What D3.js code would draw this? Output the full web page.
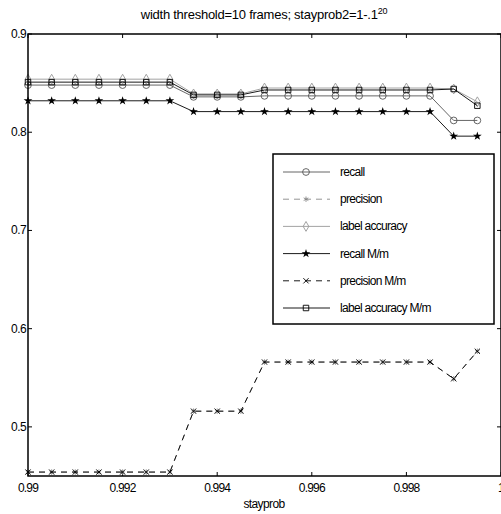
<!DOCTYPE html>
<html>
<head>
<meta charset="utf-8">
<script src="https://cdn.jsdelivr.net/npm/d3@7"></script>
<style>
  body { margin: 0; background: #fff; }
  svg { display: block; font-family: "Liberation Sans", Arial, sans-serif; }
</style>
</head>
<body>
<svg id="chart" width="501" height="514"></svg>
<script>
// stayprob values on the x axis
const stayprob = [0.99, 0.9905, 0.991, 0.9915, 0.992, 0.9925, 0.993, 0.9935, 0.994, 0.9945,
                  0.995, 0.9955, 0.996, 0.9965, 0.997, 0.9975, 0.998, 0.9985, 0.999, 0.9995];

const recall        = [0.848, 0.848, 0.848, 0.848, 0.848, 0.848, 0.848, 0.836, 0.836, 0.836,
                       0.837, 0.837, 0.837, 0.837, 0.837, 0.837, 0.837, 0.837, 0.812, 0.812];
const precision     = [0.454, 0.454, 0.454, 0.454, 0.454, 0.454, 0.454, 0.516, 0.516, 0.516,
                       0.566, 0.566, 0.566, 0.566, 0.566, 0.566, 0.566, 0.566, 0.549, 0.577];
const labelAcc      = [0.854, 0.854, 0.854, 0.854, 0.854, 0.854, 0.854, 0.839, 0.839, 0.839,
                       0.845, 0.845, 0.845, 0.845, 0.845, 0.845, 0.845, 0.845, 0.844, 0.831];
const recallMm      = [0.832, 0.832, 0.832, 0.832, 0.832, 0.832, 0.832, 0.821, 0.821, 0.821,
                       0.821, 0.821, 0.821, 0.821, 0.821, 0.821, 0.821, 0.821, 0.796, 0.796];
const precisionMm   = [0.454, 0.454, 0.454, 0.454, 0.454, 0.454, 0.454, 0.516, 0.516, 0.516,
                       0.566, 0.566, 0.566, 0.566, 0.566, 0.566, 0.566, 0.566, 0.549, 0.577];
const labelAccMm    = [0.851, 0.851, 0.851, 0.851, 0.851, 0.851, 0.851, 0.838, 0.838, 0.838,
                       0.843, 0.843, 0.843, 0.843, 0.843, 0.843, 0.843, 0.843, 0.844, 0.827];

const xTicks = [0.99, 0.992, 0.994, 0.996, 0.998, 1];
const xTickLabels = ['0.99', '0.992', '0.994', '0.996', '0.998', '1'];
const yTicks = [0.5, 0.6, 0.7, 0.8, 0.9];

const series = [
    { name: 'recall',            values: recall,      color: '#555', dash: null,  marker: 'circle' },
    { name: 'precision',         values: precision,   color: '#888', dash: '6,5', marker: 'asterisk' },
    { name: 'label accuracy',    values: labelAcc,    color: '#999', dash: null,  marker: 'diamond' },
    { name: 'recall M/m',        values: recallMm,    color: '#000', dash: null,  marker: 'star' },
    { name: 'precision M/m',     values: precisionMm, color: '#000', dash: '6,5', marker: 'x' },
    { name: 'label accuracy M/m', values: labelAccMm, color: '#000', dash: null,  marker: 'square' }
];

const svg = d3.select('#chart');
const margin = { left: 28, top: 34, right: 501, bottom: 476 };

const x = d3.scaleLinear().domain([0.99, 1]).range([margin.left, margin.right]);
const y = d3.scaleLinear().domain([0.45, 0.9]).range([margin.bottom, margin.top]);

function markerPath(type) {
    switch (type) {
        case 'circle':   return d3.symbol(d3.symbolCircle, 36)();
        case 'diamond':  return d3.symbol(d3.symbolDiamond, 28)();
        case 'square':   return d3.symbol(d3.symbolSquare, 30)();
        case 'star':     return d3.symbol(d3.symbolStar, 7)();
        case 'x':        return d3.symbol(d3.symbolTimes || d3.symbolX, 20)();
        case 'asterisk': return d3.symbol(d3.symbolAsterisk || d3.symbolCross, 20)();
    }
}

function drawMarker(g, type, color) {
    const open = type === 'circle' || type === 'diamond' || type === 'square';
    return g.append('path')
        .attr('d', markerPath(type))
        .attr('fill', type === 'star' ? color : 'none')
        .attr('stroke', color)
        .attr('stroke-width', type === 'star' ? 1.3 : 0.9)
        .attr('fill-opacity', open ? 0 : 1);
}

// axis ticks (inward, on all four sides)
const axes = svg.append('g').attr('class', 'axes');
const tickLen = 4;
xTicks.forEach((t, i) => {
    axes.append('line').attr('x1', x(t)).attr('x2', x(t))
        .attr('y1', margin.bottom).attr('y2', margin.bottom - tickLen)
        .attr('stroke', '#000');
    axes.append('line').attr('x1', x(t)).attr('x2', x(t))
        .attr('y1', margin.top).attr('y2', margin.top + tickLen)
        .attr('stroke', '#000');
    axes.append('text')
        .attr('x', x(t)).attr('y', margin.bottom + 16)
        .attr('text-anchor', 'middle')
        .attr('font-size', 12)
        .attr('letter-spacing', -0.8)
        .text(xTickLabels[i]);
});
yTicks.forEach(t => {
    axes.append('line').attr('x1', margin.left).attr('x2', margin.left + tickLen)
        .attr('y1', y(t)).attr('y2', y(t)).attr('stroke', '#000');
    axes.append('line').attr('x1', margin.right).attr('x2', margin.right - tickLen)
        .attr('y1', y(t)).attr('y2', y(t)).attr('stroke', '#000');
    axes.append('text')
        .attr('x', margin.left - 2).attr('y', y(t) + 4)
        .attr('text-anchor', 'end')
        .attr('font-size', 12)
        .attr('letter-spacing', -0.6)
        .text(d3.format('.1f')(t));
});

// lines and markers
const line = d3.line().x((d, i) => x(stayprob[i])).y(d => y(d));
const plot = svg.append('g').attr('class', 'plot');
series.forEach(s => {
    plot.append('path')
        .attr('d', line(s.values))
        .attr('fill', 'none')
        .attr('stroke', s.color)
        .attr('stroke-width', 0.9)
        .attr('stroke-dasharray', s.dash);
    s.values.forEach((v, i) => {
        drawMarker(plot, s.marker, s.color)
            .attr('transform', `translate(${x(stayprob[i])},${y(v)})`);
    });
});

// frame
svg.append('rect')
    .attr('x', margin.left).attr('y', margin.top)
    .attr('width', margin.right - margin.left).attr('height', margin.bottom - margin.top)
    .attr('fill', 'none').attr('stroke', '#000').attr('stroke-width', 1.5);

// legend
const legend = svg.append('g').attr('class', 'legend');
legend.append('rect')
    .attr('x', 273).attr('y', 154).attr('width', 221).attr('height', 170)
    .attr('fill', '#fff').attr('stroke', '#000').attr('stroke-width', 1.5);
series.forEach((s, i) => {
    const ly = 172 + i * 27.2;
    legend.append('line')
        .attr('x1', 283).attr('x2', 330).attr('y1', ly).attr('y2', ly)
        .attr('stroke', s.color).attr('stroke-width', 0.9)
        .attr('stroke-dasharray', s.dash);
    drawMarker(legend, s.marker, s.color).attr('transform', `translate(306,${ly})`);
    legend.append('text')
        .attr('x', 340).attr('y', ly + 4)
        .attr('font-size', 12)
        .attr('letter-spacing', -0.7)
        .text(s.name);
});

// title and x label
const title = svg.append('text')
    .attr('x', 264).attr('y', 19)
    .attr('text-anchor', 'middle')
    .attr('font-size', 13)
    .attr('letter-spacing', -0.25);
title.append('tspan').text('width threshold=10 frames; stayprob2=1-.1');
title.append('tspan').attr('dy', -5).attr('font-size', 9).text('20');

svg.append('text')
    .attr('x', 264).attr('y', 508)
    .attr('text-anchor', 'middle')
    .attr('font-size', 12)
    .attr('letter-spacing', -0.6)
    .text('stayprob');
</script>
</body>
</html>
